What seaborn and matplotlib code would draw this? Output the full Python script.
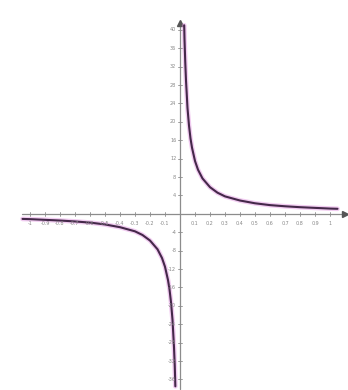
import pandas as pd
import matplotlib
matplotlib.use("Agg")
import matplotlib.pyplot as plt
import seaborn as sns

# Data: hyperbola (right and left branches)
x_right = [0.028, 0.03, 0.035, 0.04, 0.05, 0.06, 0.07, 0.08, 0.1, 0.12, 0.15, 0.2,
           0.25, 0.3, 0.4, 0.5, 0.6, 0.7, 0.8, 0.9, 1.0, 1.05]
y_right = [41.0, 38.0, 33.0, 29.0, 23.0, 19.2, 16.4, 14.4, 11.5, 9.6, 7.7, 5.8,
           4.6, 3.8, 2.9, 2.3, 1.9, 1.65, 1.45, 1.3, 1.15, 1.1]
x_left = [-1.05, -1.0, -0.9, -0.8, -0.7, -0.6, -0.5, -0.4, -0.3, -0.25, -0.2, -0.15,
          -0.12, -0.1, -0.08, -0.07, -0.06, -0.05, -0.04, -0.035, -0.031]
y_left = [-1.1, -1.15, -1.3, -1.45, -1.65, -1.9, -2.3, -2.9, -3.8, -4.6, -5.8, -7.7,
          -9.6, -11.5, -14.4, -16.4, -19.2, -23.0, -29.0, -33.0, -37.5]
x_ticks = [-1.0, -0.9, -0.8, -0.7, -0.6, -0.5, -0.4, -0.3, -0.2, -0.1,
           0.1, 0.2, 0.3, 0.4, 0.5, 0.6, 0.7, 0.8, 0.9, 1.0]
x_tick_labels = ["-1", "-0.9", "-0.8", "-0.7", "-0.6", "-0.5", "-0.4", "-0.3", "-0.2", "-0.1",
                 "0.1", "0.2", "0.3", "0.4", "0.5", "0.6", "0.7", "0.8", "0.9", "1"]
y_ticks = [-36, -32, -28, -24, -20, -16, -12, -8, -4,
           4, 8, 12, 16, 20, 24, 28, 32, 36, 40]

df = pd.DataFrame({
    "x": x_left + x_right,
    "y": y_left + y_right,
    "branch": ["left"] * len(x_left) + ["right"] * len(x_right),
})

sns.set_theme(style="white")
fig = plt.figure(figsize=(3.48, 3.90), dpi=100)
ax = fig.add_axes([0, 0, 1, 1])
ax.set_xlim(-1.2, 1.12)
ax.set_ylim(-38.3, 46.5)
ax.axis("off")

axis_col = "#8c8c8c"
ax.plot([-1.05, 1.1], [0, 0], color=axis_col, lw=0.9, zorder=1)
ax.plot([1.1], [0], marker=">", color="#555555", ms=4, zorder=2)
ax.plot([0, 0], [-38.0, 41.5], color=axis_col, lw=0.9, zorder=1)
ax.plot([0], [41.5], marker="^", color="#555555", ms=4, zorder=2)

for xv, lab in zip(x_ticks, x_tick_labels):
    ax.plot([xv, xv], [-0.5, 0.5], color=axis_col, lw=0.6)
    ax.text(xv, -1.5, lab, ha="center", va="top", fontsize=3.5, color="#888888")
for yv in y_ticks:
    ax.plot([-0.015, 0.015], [yv, yv], color=axis_col, lw=0.6)
    ax.text(-0.025, yv, str(yv), ha="right", va="center", fontsize=3.5, color="#888888")

for br in ["left", "right"]:
    sub = df[df["branch"] == br]
    sns.lineplot(data=sub, x="x", y="y", ax=ax, color="#e28ee0", lw=3.4,
                 alpha=0.45, sort=False, estimator=None, legend=False)
    sns.lineplot(data=sub, x="x", y="y", ax=ax, color="#45284a", lw=1.5,
                 sort=False, estimator=None, legend=False)

ax.set_xlabel("")
ax.set_ylabel("")
fig.savefig("out.png", dpi=100, facecolor="white")
